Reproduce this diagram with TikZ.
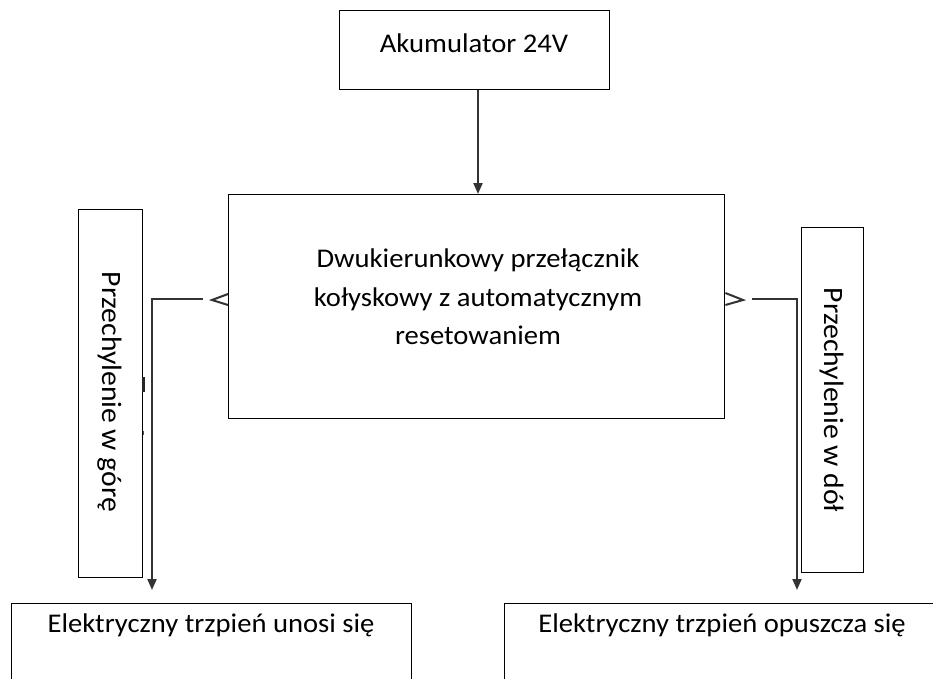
\documentclass[tikz,border=0pt]{standalone}
\usepackage{fontspec}
\setmainfont{Carlito}[FakeStretch=1.06]
\usetikzlibrary{arrows.meta}
\tikzset{
  box/.style={draw=black, line width=1.4pt, rectangle, inner sep=0pt, anchor=north west},
  lbl/.style={font=\fontsize{27}{38.5}\selectfont, align=center, inner sep=0pt},
  vlbl/.style={font=\fontsize{28}{34}\selectfont, inner sep=0pt, rotate=-90},
  conn/.style={draw=black!80, line width=2pt},
  tip/.style={-{Triangle[length=11pt,width=9pt]}},
  chev/.style={draw=black!80, line width=2pt, line join=miter}
}
\begin{document}
\begin{tikzpicture}[x=1pt,y=-1pt]
\clip (0,0) rectangle (933,679);
\fill[white] (0,0) rectangle (933,679);
% boxes
\node[box, minimum width=270pt, minimum height=79pt] (top) at (339,10) {};
\node[box, minimum width=496pt, minimum height=224pt] (mid) at (228,194) {};
\node[box, minimum width=64pt, minimum height=368pt] (lv) at (78,209) {};
\node[box, minimum width=62pt, minimum height=345pt] (rv) at (801,227) {};
\node[box, minimum width=400pt, minimum height=120pt] (bl) at (11,603) {};
\node[box, minimum width=450pt, minimum height=120pt] (br) at (504,603) {};
% texts
\node[lbl] (toptxt) at (474,43) {Akumulator 24V};
\node[lbl] (midtxt) at (478,297) {Dwukierunkowy przełącznik\\kołyskowy z automatycznym\\resetowaniem};
\node[vlbl] (lvtxt) at (110,392) {Przechylenie w górę};
\node[vlbl] (rvtxt) at (832,400) {Przechylenie w dół};
\node[lbl] (bltxt) at (211,625) {Elektryczny trzpień unosi się};
\node[lbl] (brtxt) at (722,625) {Elektryczny trzpień opuszcza się};
% connector coordinates
\coordinate (ls) at (203,299);
\coordinate (lc) at (152,299);
\coordinate (le) at (152,590);
\coordinate (rs) at (752,299);
\coordinate (rc) at (797,299);
\coordinate (re) at (797,590);
% connectors
\draw[conn, tip] (top.south -| 478,0) -- (mid.north -| 478,0);
\draw[conn, tip] (ls) -- (lc) -- (le);
\draw[conn, tip] (rs) -- (rc) -- (re);
% chevrons at switch sides
\draw[chev] (mid.west |- 0,294) -- (212,300) -- (mid.west |- 0,305);
\draw[chev] (mid.east |- 0,293) -- (743,300) -- (mid.east |- 0,305);
% small marks on left box edge
\draw[line width=3pt, black!85] (lv.east |- 0,377) -- (lv.east |- 0,392);
\draw[line width=1.5pt, black!70] (lv.east |- 0,431) -- (lv.east |- 0,435);
\end{tikzpicture}
\end{document}
